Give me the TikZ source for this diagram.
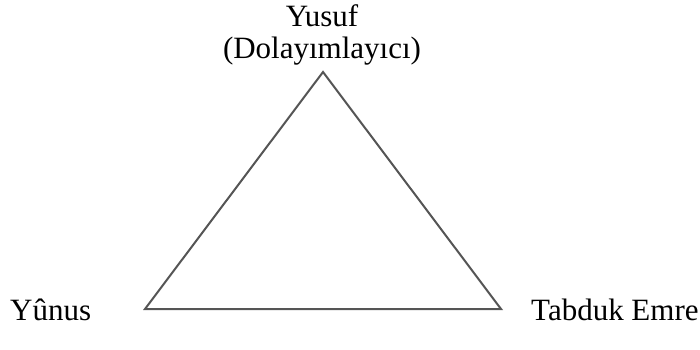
\documentclass[tikz,border=0pt]{standalone}
\usepackage{fontspec}
\setmainfont{Liberation Serif}
\definecolor{edgegray}{HTML}{555555}
\begin{document}
\begin{tikzpicture}[x=1pt,y=-1pt,
  lbl/.style={font=\fontsize{31}{36}\selectfont, inner sep=0pt, text=black},
  edge/.style={draw=edgegray, line width=2pt, line join=miter}]
\useasboundingbox (0,0) rectangle (700,349);
\coordinate (top) at (323,72);
\coordinate (bl) at (145,309);
\coordinate (br) at (501,309);
\draw[edge] (top) -- (bl) -- (br) -- cycle;
\node[lbl, anchor=base] (yusuf) at (322,26) {Yusuf};
\node[lbl, anchor=base] (dolay) at (322,58) {(Dolayımlayıcı)};
\node[lbl, anchor=base west] (yunus) at (10,320) {Yûnus};
\node[lbl, anchor=base west] (tabduk) at (531,320) {Tabduk Emre};
\end{tikzpicture}
\end{document}
